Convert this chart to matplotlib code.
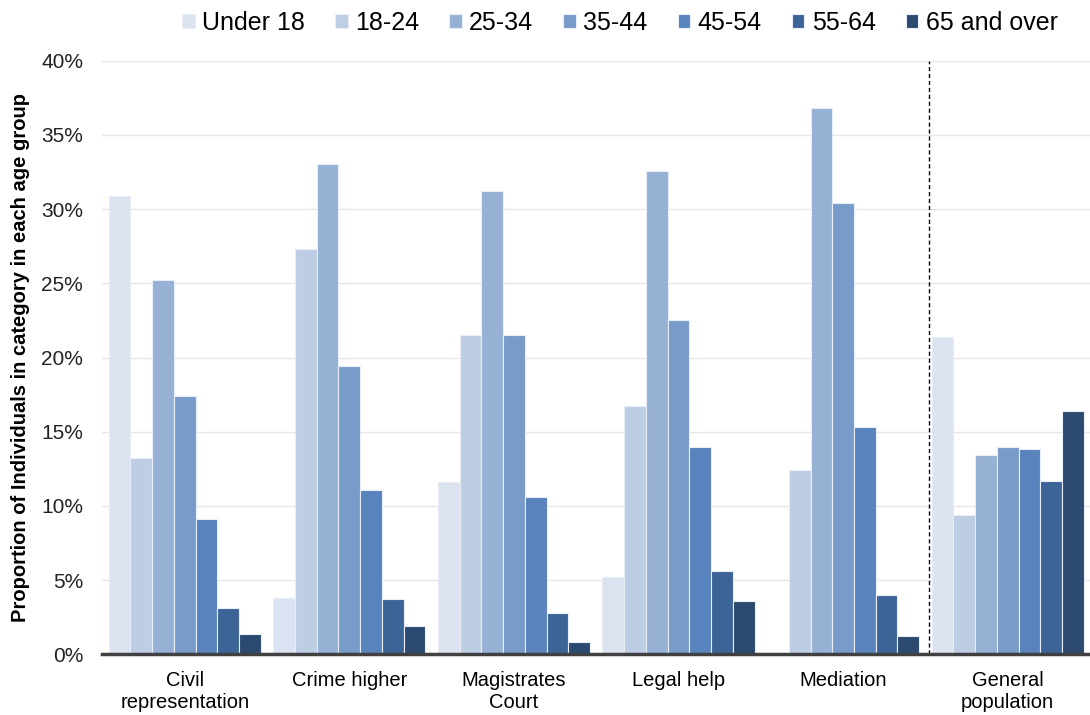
import numpy as np
import matplotlib.pyplot as plt
from matplotlib.ticker import PercentFormatter

plt.rcParams['font.family'] = ['Liberation Sans', 'DejaVu Sans']

categories = ['Civil\nrepresentation', 'Crime higher', 'Magistrates\nCourt',
              'Legal help', 'Mediation', 'General\npopulation']
age_groups = ['Under 18', '18-24', '25-34', '35-44', '45-54', '55-64', '65 and over']

# share (%) of each category falling in each age group
under_18 = [30.9, 3.8, 11.6, 5.2, 0.0, 21.4]
age_18_24 = [13.2, 27.3, 21.5, 16.7, 12.4, 9.4]
age_25_34 = [25.2, 33.05, 31.2, 32.6, 36.8, 13.4]
age_35_44 = [17.4, 19.4, 21.5, 22.5, 30.4, 14.0]
age_45_54 = [9.1, 11.1, 10.6, 14.0, 15.3, 13.8]
age_55_64 = [3.1, 3.7, 2.8, 5.6, 4.0, 11.7]
age_65_over = [1.35, 1.9, 0.8, 3.6, 1.2, 16.4]

series = [under_18, age_18_24, age_25_34, age_35_44, age_45_54, age_55_64, age_65_over]
colors = ['#dce3f0', '#bdcde3', '#97b1d5', '#789bc9', '#5983bd', '#3d6497', '#2c4a70']

fig = plt.figure(figsize=(10.9, 7.15), dpi=100)
ax = fig.add_axes([0.094, 0.085, 0.906, 0.83])

x = np.arange(len(categories))
w = 0.132
for i, (vals, c) in enumerate(zip(series, colors)):
    ax.bar(x + (i - 3) * w, vals, width=w, color=c, edgecolor='#e8eef7',
           linewidth=0.8, label=age_groups[i], zorder=3)

# separates the legal aid categories from the general population
ax.axvline(4.52, color='black', linestyle=(0, (3, 2)), linewidth=1, zorder=4)

ax.set_xlim(-0.5, 5.5)
ax.set_ylim(0, 40)
ax.set_yticks(range(0, 41, 5))
ax.yaxis.set_major_formatter(PercentFormatter(decimals=0))
ax.grid(axis='y', color='#e6e6e6', linewidth=1, zorder=0)
ax.set_xticks(x)
ax.set_xticklabels(categories, fontsize=14.5, linespacing=1.2)
ax.tick_params(axis='y', labelsize=15, length=0, pad=14, labelcolor='#222222')
ax.tick_params(axis='x', length=0, pad=12)

for s in ['top', 'right', 'left']:
    ax.spines[s].set_visible(False)
ax.spines['bottom'].set_color('#404040')
ax.spines['bottom'].set_linewidth(2.5)
ax.spines['bottom'].set_zorder(5)

ax.set_ylabel('Proportion of Individuals in category in each age group',
              fontsize=14.5, fontweight='bold', labelpad=8)

ax.legend(loc='upper center', bbox_to_anchor=(0.524, 1.122), ncol=7, frameon=False,
          fontsize=18, handlelength=0.5, handleheight=0.5, handletextpad=0.3,
          columnspacing=1.2)

plt.savefig('out.png', dpi=100)
